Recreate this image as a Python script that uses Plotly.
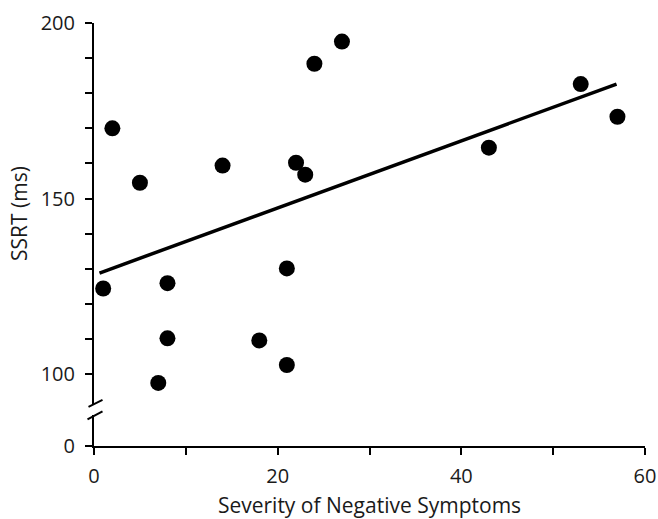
import plotly.graph_objects as go

# Severity of negative symptoms vs. stop-signal reaction time
severity = [2, 5, 14, 22, 23, 1, 8, 21, 8, 18, 21, 7, 27, 24, 43, 53, 57]
ssrt_ms = [170, 154.5, 159.4, 160.2, 156.8, 124.4, 125.9, 130.1, 110.2,
           109.6, 102.6, 97.5, 194.7, 188.4, 164.5, 182.6, 173.3]

# Endpoints of the fitted regression line
fit_x = [0.6, 56.9]
fit_y = [128.8, 182.6]

# Axis ticks
x_ticks = [0, 10, 20, 30, 40, 50, 60]
x_ticktext = ["0", "", "20", "", "40", "", "60"]
y_ticks = [100, 110, 120, 130, 140, 150, 160, 170, 180, 190, 200]
y_ticktext = ["100", "", "", "", "", "150", "", "", "", "", "200"]

W, H = 658, 519
M = dict(l=94, r=13, t=23, b=73)
PW = W - M["l"] - M["r"]
PH = H - M["t"] - M["b"]

FONT = "Open Sans"
INK = "#1a1a1a"

LOW_TOP = 31 / PH       # top of the short segment holding the 0 tick
UP_BOTTOM = 42 / PH     # bottom of the main 100-200 segment

fig = go.Figure()
# empty trace so the lower (0) segment of the y axis is drawn
fig.add_trace(go.Scatter(x=[None], y=[None], xaxis="x", yaxis="y",
                         mode="markers", hoverinfo="skip", showlegend=False))
fig.add_trace(go.Scatter(
    x=fit_x, y=fit_y, mode="lines", xaxis="x", yaxis="y2",
    line=dict(color="black", width=3.5), hoverinfo="skip", showlegend=False))
fig.add_trace(go.Scatter(
    x=severity, y=ssrt_ms, mode="markers", xaxis="x", yaxis="y2",
    marker=dict(color="black", size=16), showlegend=False))

axis_common = dict(showline=True, linecolor="black", linewidth=2,
                   ticks="outside", ticklen=7, tickwidth=2, tickcolor="black",
                   showgrid=False, zeroline=False, automargin=False,
                   tickfont=dict(family=FONT, size=20, color=INK))

fig.update_layout(
    width=W, height=H, margin=M,
    paper_bgcolor="white", plot_bgcolor="white",
    xaxis=dict(range=[0, 60], tickvals=x_ticks, ticktext=x_ticktext,
               anchor="y", ticklabelstandoff=4,
               title=dict(text="Severity of Negative Symptoms", standoff=12,
                          font=dict(family=FONT, size=21, color=INK)),
               **axis_common),
    yaxis=dict(domain=[0, LOW_TOP], range=[0, 10], tickvals=[0], ticktext=["0"],
               anchor="x", ticklabelstandoff=6, **axis_common),
    yaxis2=dict(domain=[UP_BOTTOM, 1], range=[91.5, 200], tickvals=y_ticks,
                ticktext=y_ticktext, anchor="x", ticklabelstandoff=6,
                title=dict(text="SSRT (ms)", standoff=7,
                           font=dict(family=FONT, size=21, color=INK)),
                **axis_common),
)

# Break marks on the y axis
def px(dx):
    return dx / PW

def py(dy):
    return dy / PH

for y_base, (x0, y0, x1, y1) in [
    (UP_BOTTOM + py(0.3), (-5.5, -3.2, 8.5, 3.8)),
    (LOW_TOP - py(0.5), (-6.5, -3.8, 8.5, 4.2)),
]:
    fig.add_shape(type="line", xref="paper", yref="paper",
                  x0=px(x0), y0=y_base + py(y0), x1=px(x1), y1=y_base + py(y1),
                  line=dict(color="black", width=2))

fig.write_html("out.html")
